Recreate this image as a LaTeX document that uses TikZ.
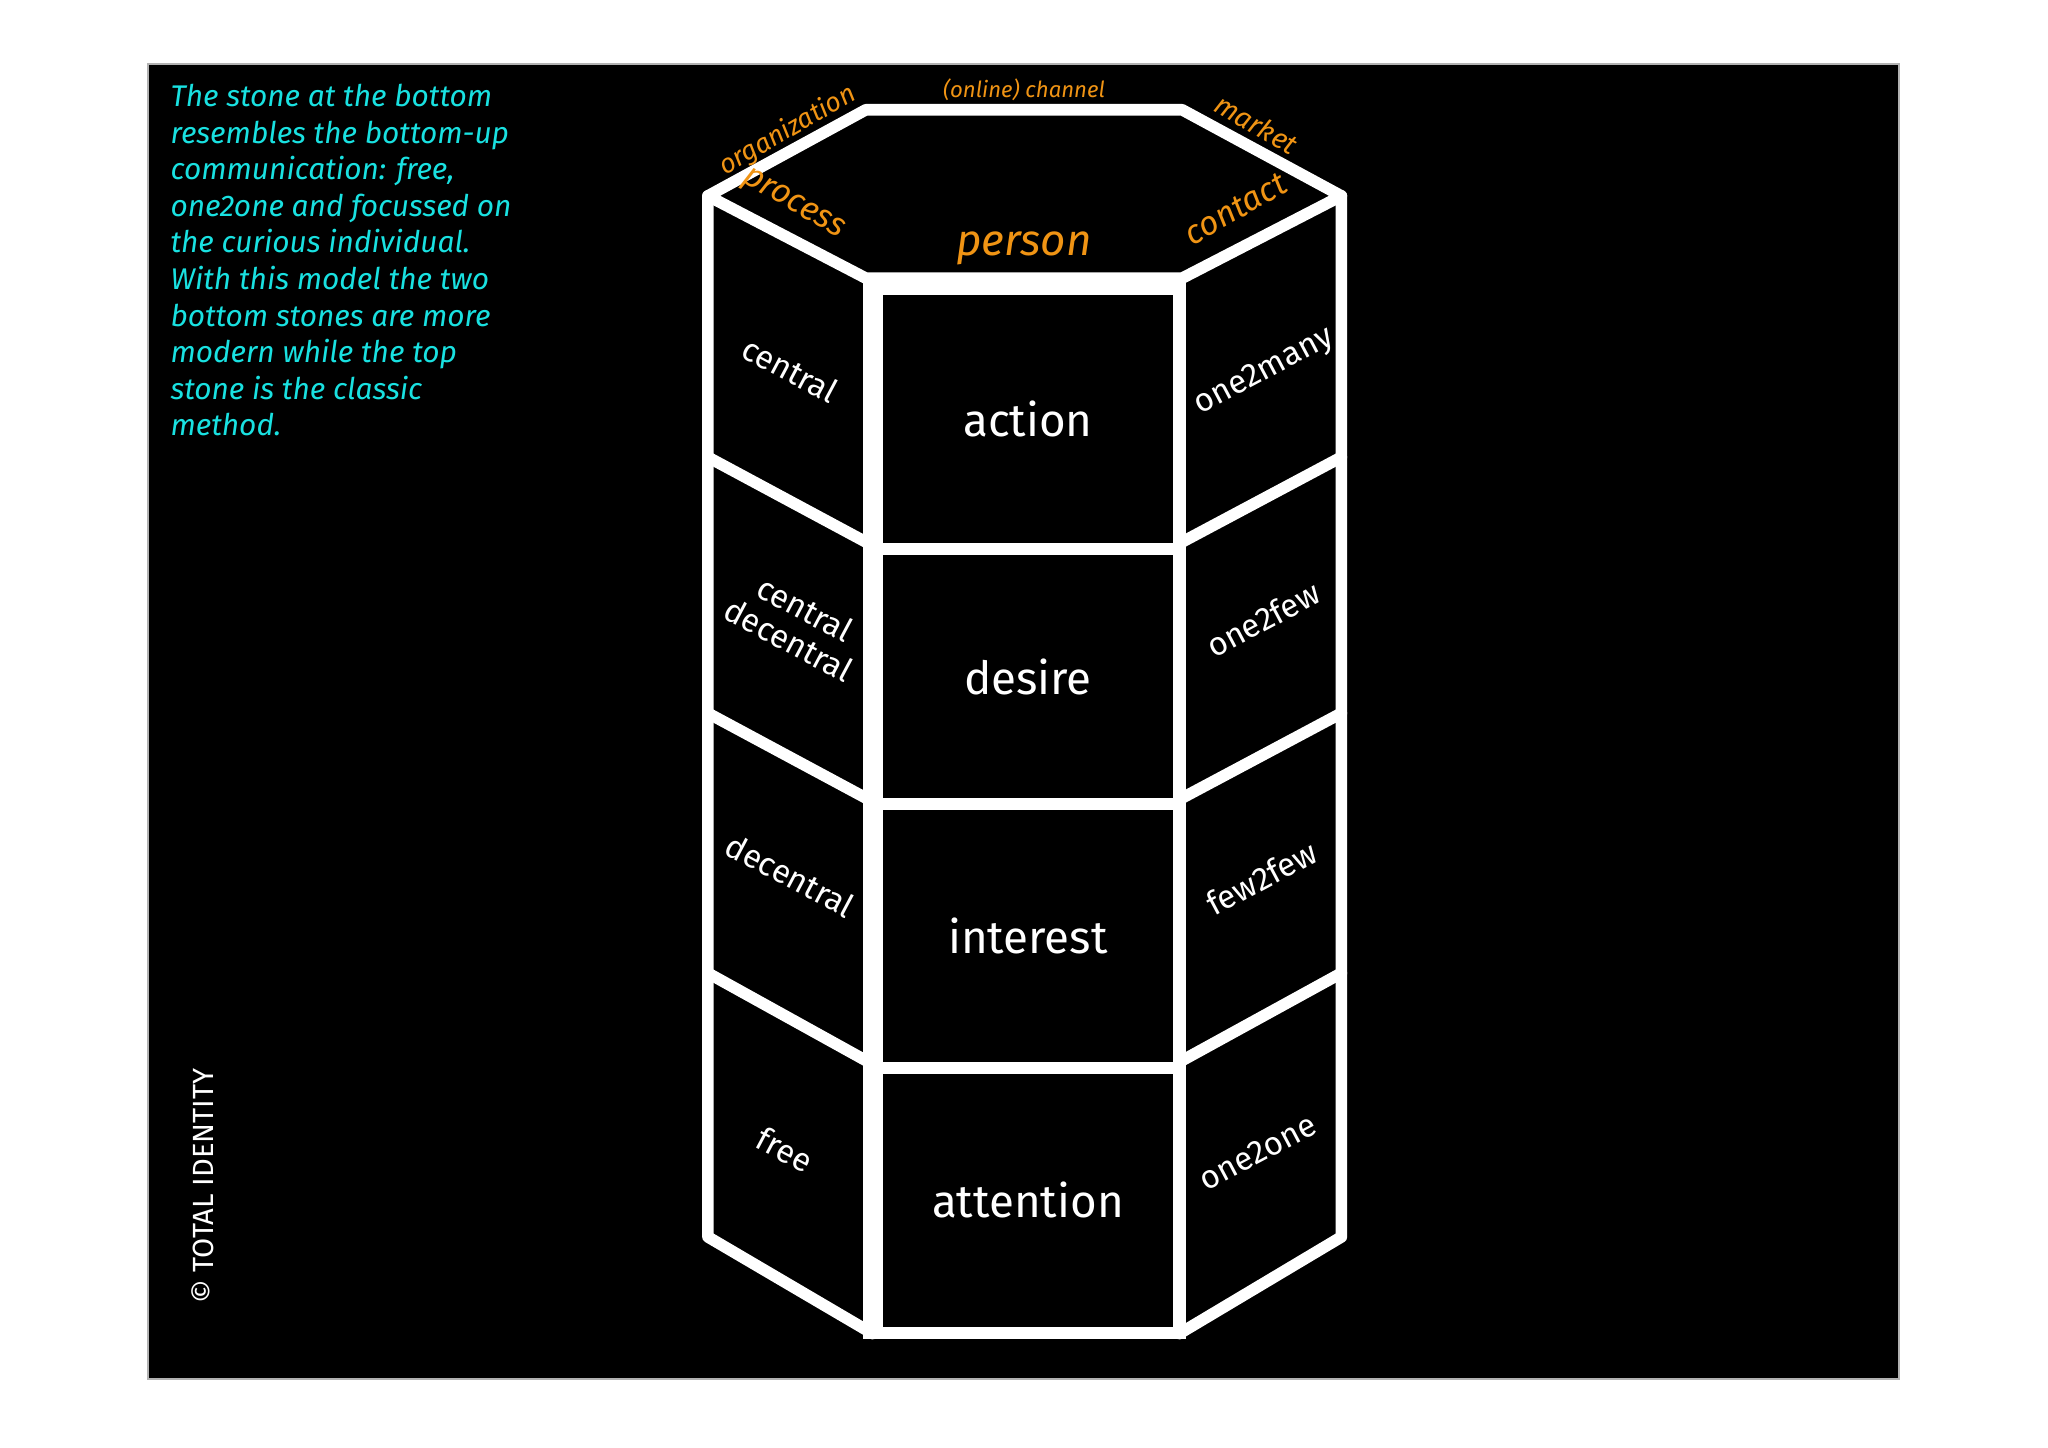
\documentclass[tikz,border=0pt]{standalone}
\usepackage{fontspec}
\setmainfont{Fira Sans}
\usepackage{tikz}
\definecolor{stonecyan}{RGB}{25,225,225}
\definecolor{stoneorange}{RGB}{240,148,20}

\begin{document}
\begin{tikzpicture}[x=1.306cm,y=-1.306cm]
        \tikzset{
        edge/.style={white, line width=3.3pt, line join=round, line cap=round},
        stone/.style={rectangle, fill=black, minimum width=2.9cm, inner sep=0pt,
        text=white, font=\fontsize{13}{15}\selectfont},
        sidel/.style={text=white, font=\fontsize{9.3}{10}\selectfont, rotate=-28, align=center},
        sider/.style={text=white, font=\fontsize{9.3}{10}\selectfont, rotate=28},
        face/.style={text=stoneorange, font=\itshape\fontsize{9.5}{11}\selectfont},
        note/.style={text=stonecyan, font=\itshape\fontsize{8.5}{10.4}\selectfont,
        align=left, anchor=north west, inner sep=0pt}
        }
        \useasboundingbox (0,0) rectangle (15.68,11.08);
        \fill[white] (0,0) rectangle (15.68,11.08);
        \filldraw[fill=black, draw=gray!60, line width=0.6pt] (1.13,0.49) rectangle (14.54,10.56);

        \coordinate (l) at (5.42,1.50);
        \coordinate (tl) at (6.63,0.84);
        \coordinate (tr) at (9.05,0.84);
        \coordinate (r) at (10.27,1.50);
        \coordinate (ftr) at (9.05,2.13);
        \coordinate (ftl) at (6.63,2.13);
        \coordinate (bl) at (5.42,9.47);
        \coordinate (br) at (10.27,9.47);
        \coordinate (fbl) at (6.68,10.21);
        \coordinate (fbr) at (9.03,10.21);

        \draw[edge] (l) -- (tl) -- (tr) -- (r) -- (ftr) -- (ftl) -- cycle;
        \draw[edge] (l) -- (bl) -- (fbl);
        \draw[edge] (r) -- (br) -- (fbr);
        \draw[edge] (5.42,3.50) -- (6.63,4.15);
        \draw[edge] (5.42,5.46) -- (6.63,6.11);
        \draw[edge] (5.42,7.45) -- (6.63,8.12);
        \draw[edge] (10.27,3.50) -- (9.05,4.15);
        \draw[edge] (10.27,5.46) -- (9.05,6.11);
        \draw[edge] (10.27,7.45) -- (9.05,8.12);
        \fill[white] (6.61,2.11) rectangle (9.08,10.25);

        \node[stone, minimum height=2.48cm] (action) at (7.87,3.21) {action};
        \node[stone, minimum height=2.43cm] (desire) at (7.87,5.18) {desire};
        \node[stone, minimum height=2.52cm] (interest) at (7.87,7.165) {interest};
        \node[stone, minimum height=2.53cm] (attention) at (7.87,9.19) {attention};

        \node[sidel] (central) at (6.05,2.83) {central};
        \node[sidel] (centraldecentral) at (6.10,4.78) {central\\decentral};
        \node[sidel] (decentral) at (6.05,6.70) {decentral};
        \node[sidel] (free) at (6.01,8.80) {free};
        \node[sider] (onemany) at (9.68,2.85) {one2many};
        \node[sider] (onefew) at (9.67,4.74) {one2few};
        \node[sider] (fewfew) at (9.66,6.72) {few2few};
        \node[sider] (oneone) at (9.63,8.82) {one2one};

        \node[face, rotate=30, font=\itshape\fontsize{7.6}{9}\selectfont] (organization) at (6.03,1.00) {organization};
        \node[face, rotate=-30] (process) at (6.07,1.57) {process};
        \node[face, font=\itshape\fontsize{6.3}{8}\selectfont] (channel) at (7.84,0.69) {(online) channel};
        \node[face, rotate=-30, font=\itshape\fontsize{8}{9}\selectfont] (market) at (9.62,0.95) {market};
        \node[face, rotate=30] (contact) at (9.46,1.60) {contact};
        \node[face, font=\itshape\fontsize{12.5}{14}\selectfont] (person) at (7.84,1.90) {person};

        \node[note] (story) at (1.30,0.64) {The stone at the bottom\\resembles the bottom-up\\communication: free,\\one2one and focussed on\\the curious individual.\\With this model the two\\bottom stones are more\\modern while the top\\stone is the classic\\method.};
        \node[text=white, rotate=90, font=\fontsize{8.3}{10}\selectfont] (copyright) at (1.55,9.08) {© TOTAL IDENTITY};
        \end{tikzpicture}
\end{document}
